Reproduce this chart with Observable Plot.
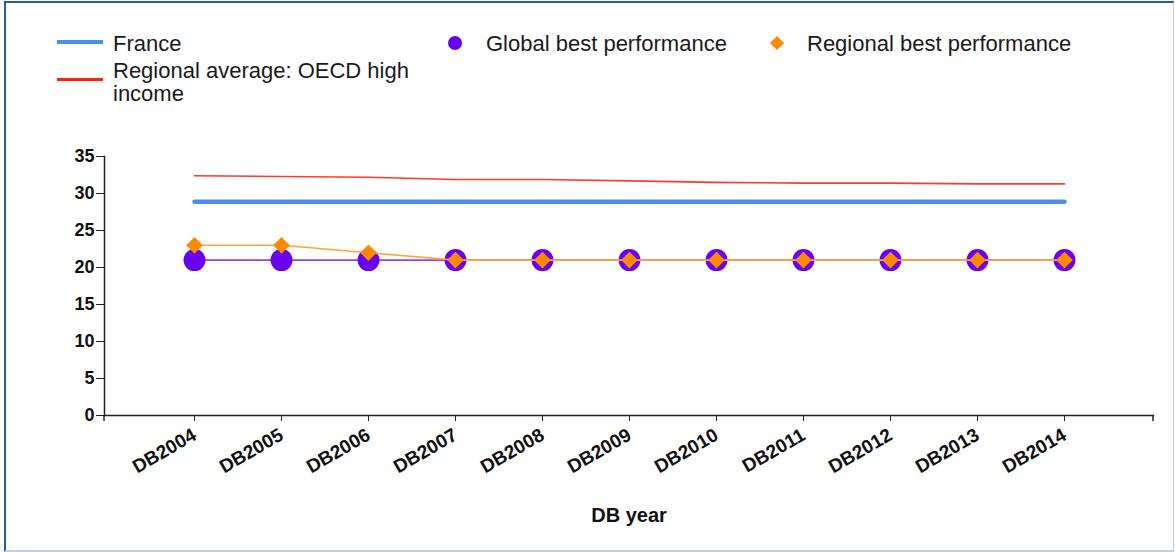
<!DOCTYPE html>
<html>
<head>
<meta charset="utf-8">
<script src="https://cdn.jsdelivr.net/npm/d3@7"></script>
<script src="https://cdn.jsdelivr.net/npm/@observablehq/plot@0.6"></script>
<style>
  html, body { margin: 0; padding: 0; background: #fff; }
  body { width: 1175px; height: 552px; position: relative; overflow: hidden; font-family: "Liberation Sans", Arial, sans-serif; }
  #frame { position: absolute; left: 4px; top: 1px; width: 1167px; height: 547px;
           border-left: 2px solid #2a5c9a; border-top: 2px solid #2a5c9a;
           border-right: 1px solid #c5cfda; border-bottom: 2px solid #c5cfda; }
  .leg { position: absolute; font-size: 22px; line-height: 23px; color: #1a1a1a; }
  .sw { position: absolute; }
  #chart { position: absolute; left: 0; top: 140px; }
</style>
</head>
<body>
<div id="frame"></div>
<div id="legend"></div>
<div id="chart"></div>
<script>
const years = ["DB2004","DB2005","DB2006","DB2007","DB2008","DB2009","DB2010","DB2011","DB2012","DB2013","DB2014"];
const france = [28.9,28.9,28.9,28.9,28.9,28.9,28.9,28.9,28.9,28.9,28.9];
const oecdAverage = [32.4,32.3,32.2,31.9,31.9,31.7,31.5,31.4,31.4,31.3,31.3];
const globalBest = [21,21,21,21,21,21,21,21,21,21,21];
const regionalBest = [23,23,22,21,21,21,21,21,21,21,21];
const yTicks = [0,5,10,15,20,25,30,35];

const seriesNames = ["France", "Regional average: OECD high income", "Global best performance", "Regional best performance"];
const colors = { france: "#4a8fe8", oecd: "#ff3a2e", global: "#6a00f0", globalLine: "#8f45f2", regional: "#ff8a00", regionalLine: "#ffa53a" };

// Legend (HTML)
const legend = document.getElementById("legend");
function addText(text, left, top, width) {
  const d = document.createElement("div");
  d.className = "leg";
  d.style.left = left + "px"; d.style.top = top + "px";
  if (width) d.style.width = width + "px";
  d.textContent = text;
  legend.appendChild(d);
}
function addSwatch(style) {
  const d = document.createElement("div");
  d.className = "sw";
  Object.assign(d.style, style);
  legend.appendChild(d);
}
addSwatch({left: "57px", top: "40px", width: "46px", height: "4px", background: colors.france});
addText(seriesNames[0], 113, 32);
addSwatch({left: "57px", top: "78px", width: "46px", height: "3px", background: "#ff2200"});
addText(seriesNames[1], 113, 59, 310);
addSwatch({left: "448px", top: "36px", width: "14px", height: "14px", borderRadius: "50%", background: colors.global});
addText(seriesNames[2], 486, 32);
addSwatch({left: "772px", top: "38px", width: "10px", height: "10px", background: colors.regional, transform: "rotate(45deg)"});
addText(seriesNames[3], 807, 32);

const data = years.map((y, i) => ({year: y, france: france[i], oecd: oecdAverage[i], global: globalBest[i], regional: regionalBest[i]}));

const plot = Plot.plot({
  width: 1175,
  height: 400,
  marginLeft: 104,
  marginRight: 22,
  marginTop: 16,
  marginBottom: 125,
  style: { fontFamily: "Liberation Sans, Arial, sans-serif", color: "#111", background: "transparent" },
  x: { type: "point", domain: years, padding: 1 },
  y: { domain: [0, 35], ticks: yTicks },
  marks: [
    Plot.axisY({ ticks: yTicks, tickSize: 8, tickPadding: 2, fontSize: 18, fontWeight: "bold", label: null, stroke: "#222" }),
    Plot.axisX({ tickSize: 6, tickRotate: -30, tickPadding: 12, fontSize: 19, fontWeight: "bold", label: null, stroke: "#222" }),
    Plot.axisX({ ticks: [], tickSize: 0, fontSize: 20, fontWeight: "bold", label: "DB year", labelAnchor: "center", labelArrow: "none", labelOffset: 106 }),
    Plot.frame({ anchor: "left", stroke: "#222", strokeWidth: 1.5 }),
    Plot.frame({ anchor: "bottom", stroke: "#222", strokeWidth: 1.5 }),
    (index, scales, values, dim) => {
      const svg = d3.create("svg:g");
      const yb = dim.height - dim.marginBottom;
      [dim.marginLeft, dim.width - dim.marginRight].forEach(x => {
        svg.append("line").attr("x1", x).attr("x2", x).attr("y1", yb).attr("y2", yb + 6).attr("stroke", "#222").attr("stroke-width", 1.5);
      });
      return svg.node();
    },
    Plot.line(data, { x: "year", y: "oecd", stroke: colors.oecd, strokeWidth: 1.6 }),
    Plot.line(data, { x: "year", y: "france", stroke: colors.france, strokeWidth: 4.5, strokeLinecap: "round" }),
    Plot.line(data, { x: "year", y: "global", stroke: colors.globalLine, strokeWidth: 1.6 }),
    Plot.dot(data, { x: "year", y: "global", r: 11, fill: colors.global }),
    Plot.line(data, { x: "year", y: "regional", stroke: colors.regionalLine, strokeWidth: 1.6 }),
    Plot.dot(data, { x: "year", y: "regional", symbol: "diamond2", r: 7.5, fill: colors.regional })
  ]
});
document.getElementById("chart").appendChild(plot);
</script>
</body>
</html>
